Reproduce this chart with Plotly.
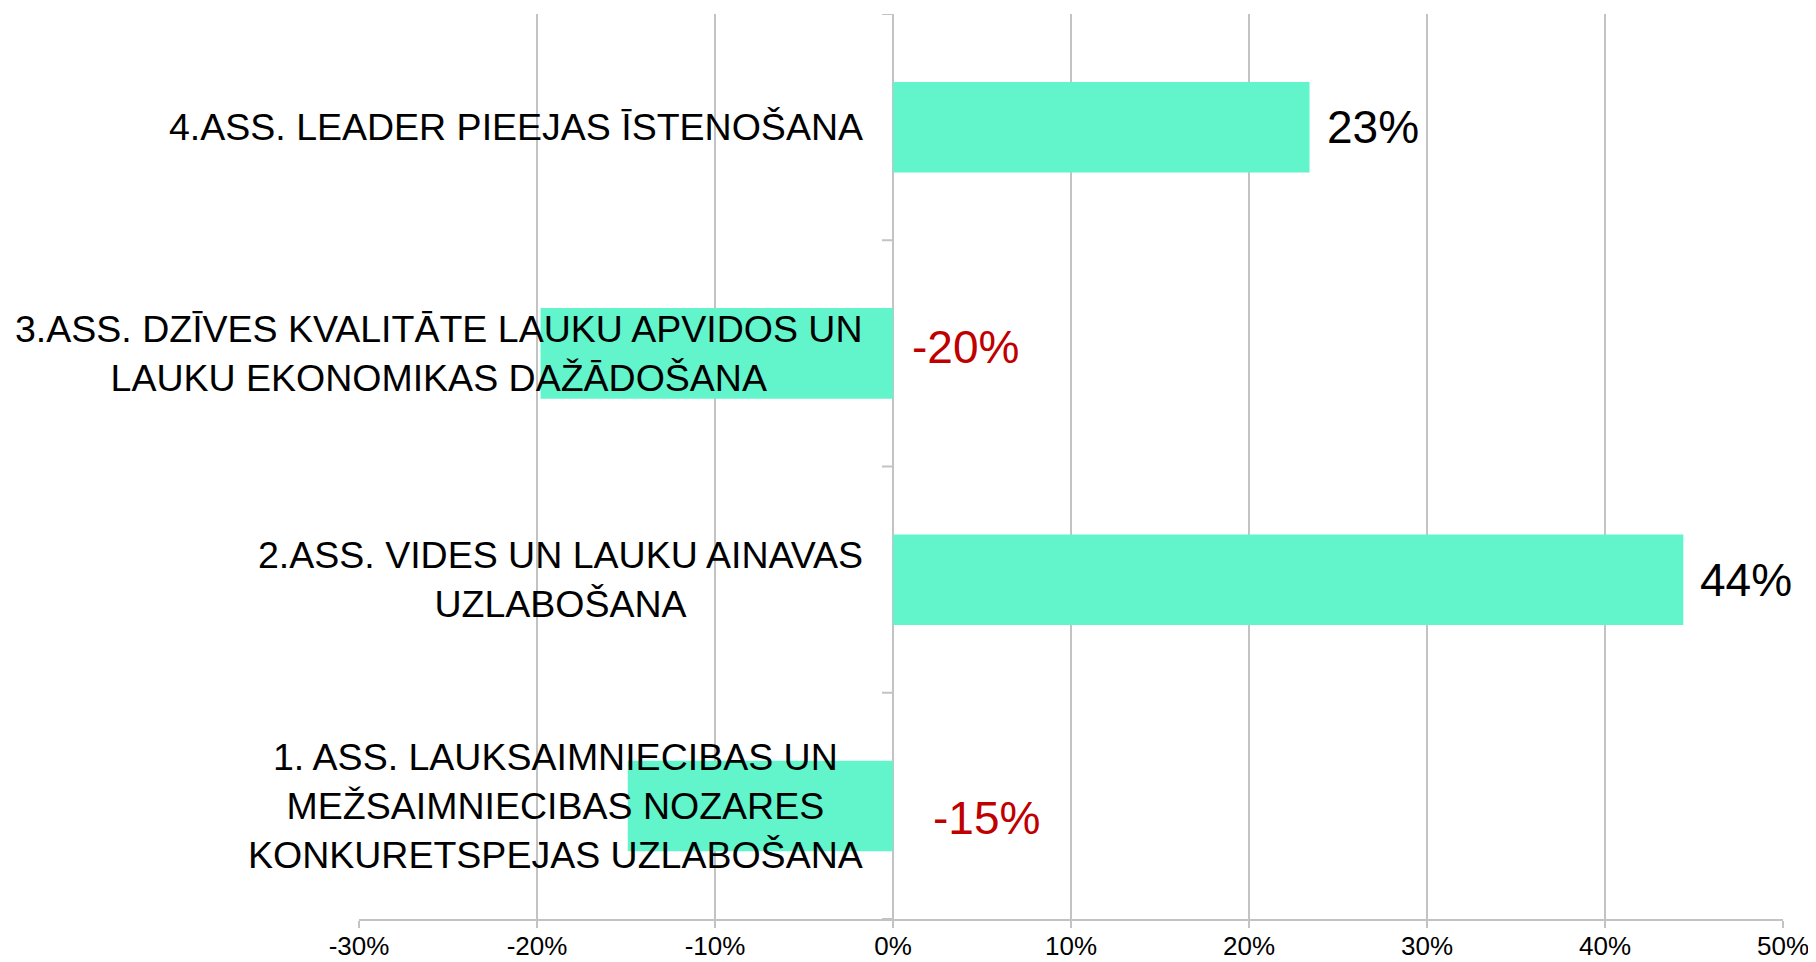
import plotly.graph_objects as go

categories = [
    "1. ASS. LAUKSAIMNIECIBAS UN<br>MEŽSAIMNIECIBAS NOZARES<br>KONKURETSPEJAS UZLABOŠANA",
    "2.ASS. VIDES UN LAUKU AINAVAS<br>UZLABOŠANA",
    "3.ASS. DZĪVES KVALITĀTE LAUKU APVIDOS UN<br>LAUKU EKONOMIKAS DAŽĀDOŠANA",
    "4.ASS. LEADER PIEEJAS ĪSTENOŠANA",
]
values = [-0.149, 0.444, -0.198, 0.234]
x_ticks = [-0.3, -0.2, -0.1, 0.0, 0.1, 0.2, 0.3, 0.4, 0.5]
x_tick_labels = ["-30%", "-20%", "-10%", "0%", "10%", "20%", "30%", "40%", "50%"]

# label styling (pixel offsets, not data)
label_dx = [38, 15, 17, 15]
label_dy = [-12, 0, 6, 0]

FONT = "Liberation Sans, Arial, sans-serif"
GRID = "#c3c3c3"
BAR = "#62F4CB"

fig = go.Figure()
fig.add_trace(go.Bar(
    y=categories, x=values, orientation="h",
    marker=dict(color=BAR, line=dict(width=0)),
    hoverinfo="skip",
))

annotations = []
for cat, v, dx, dy in zip(categories, values, label_dx, label_dy):
    # category label near the zero line
    annotations.append(dict(
        x=0, y=cat, xref="x", yref="y", text=cat, showarrow=False,
        xanchor="right", yanchor="middle", align="center", xshift=-28,
        font=dict(family=FONT, size=37.5, color="#000000"),
    ))
    # data label
    annotations.append(dict(
        x=max(v, 0), y=cat, xref="x", yref="y", text=f"{v:.0%}", showarrow=False,
        xanchor="left", yanchor="middle", xshift=dx, yshift=dy,
        font=dict(family=FONT, size=46, color="#C00000" if v < 0 else "#000000"),
    ))

shapes = []
for b in [-0.5, 0.5, 1.5, 2.5, 3.5]:
    shapes.append(dict(
        type="line", xref="x", yref="y", xsizemode="pixel", xanchor=0,
        x0=-11, x1=0, y0=b, y1=b, line=dict(color=GRID, width=2),
    ))

# page body has an 8px margin, so the figure is sized to fit the window
fig.update_layout(
    width=1808, height=954,
    margin=dict(l=351, r=33, t=6, b=43, autoexpand=False),
    paper_bgcolor="white", plot_bgcolor="white",
    showlegend=False,
    bargap=0.6,
    annotations=annotations,
    shapes=shapes,
    font=dict(family=FONT, color="#000000"),
)
fig.update_xaxes(
    range=[-0.3, 0.5], tickvals=x_ticks, ticktext=x_tick_labels,
    showgrid=True, gridcolor=GRID, gridwidth=1.5,
    zeroline=True, zerolinecolor=GRID, zerolinewidth=2,
    showline=True, linecolor=GRID, linewidth=2,
    ticks="outside", ticklen=7, tickcolor=GRID, tickwidth=1.5,
    ticklabelstandoff=-4,
    tickfont=dict(family=FONT, size=26, color="#000000"),
    automargin=False,
    fixedrange=True,
)
fig.update_yaxes(
    categoryorder="array", categoryarray=categories,
    range=[-0.5, 3.5], showticklabels=False, showgrid=False,
    zeroline=False, showline=False, ticks="",
    automargin=False,
    fixedrange=True,
)

fig.write_html("out.html")
